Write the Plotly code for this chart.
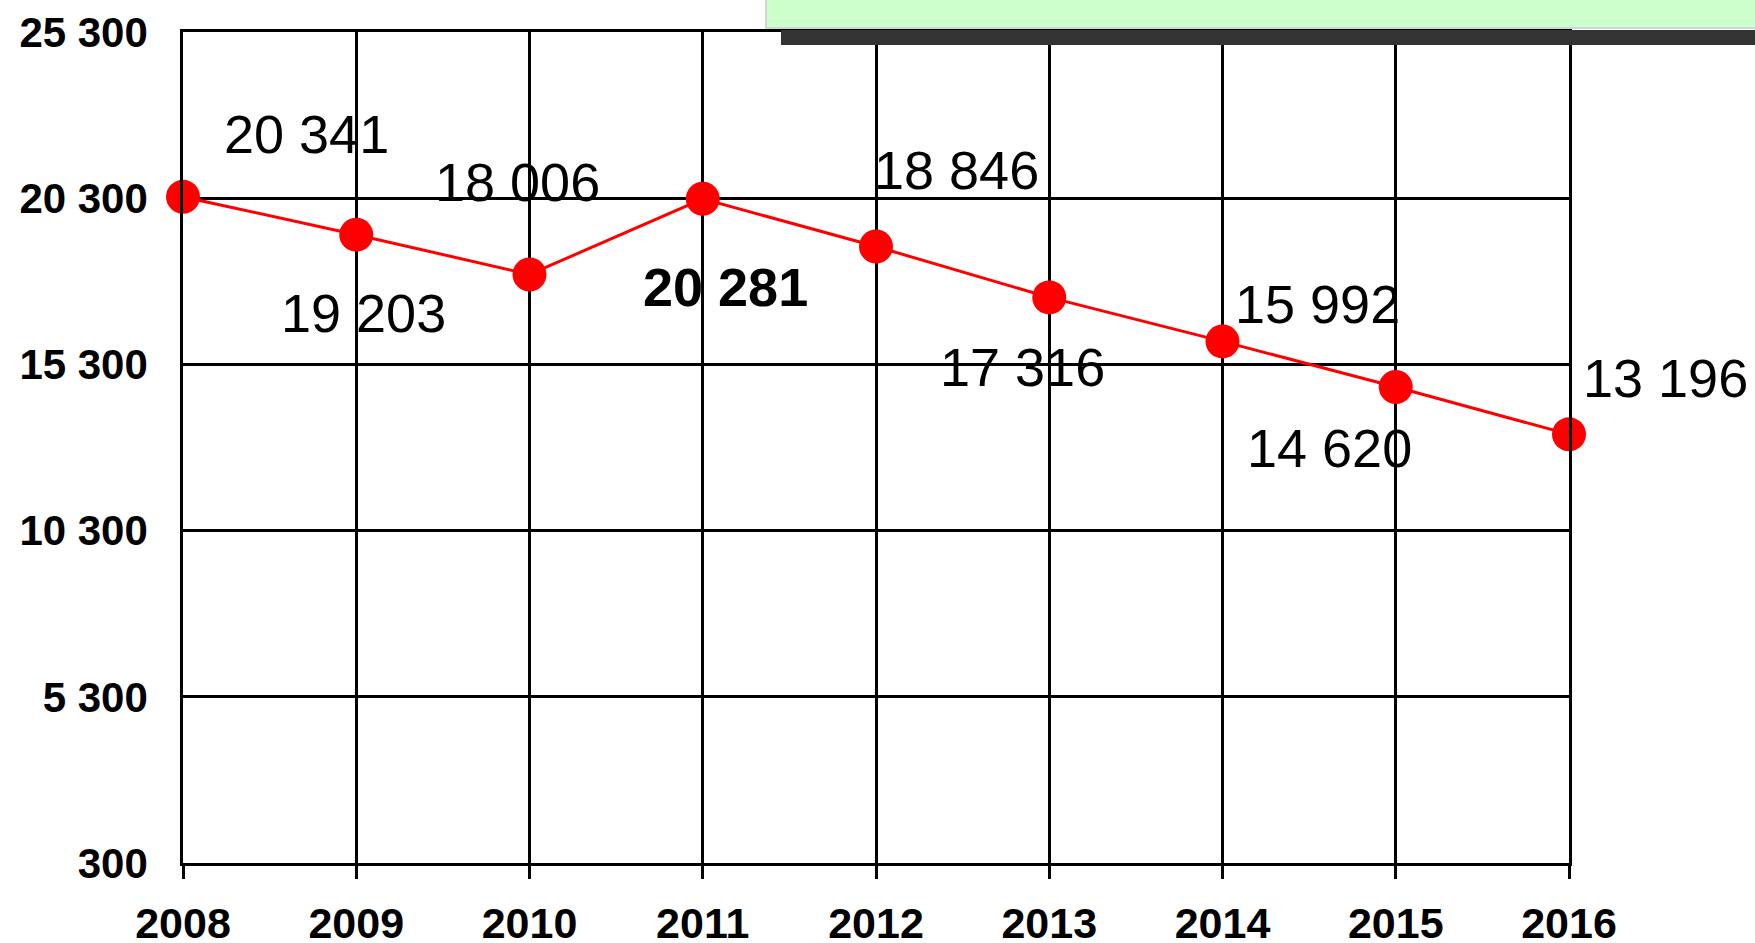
import plotly.graph_objects as go

# ---- data ----
years = [2008, 2009, 2010, 2011, 2012, 2013, 2014, 2015, 2016]
debt = [20341, 19203, 18006, 20281, 18846, 17316, 15992, 14620, 13196]
value_labels = ["20 341", "19 203", "18 006", "20 281", "18 846",
                "17 316", "15 992", "14 620", "13 196"]
bold_label = [False, False, False, True, False, False, False, False, False]
x_tick_labels = ["2008", "2009", "2010", "2011", "2012", "2013", "2014", "2015", "2016"]
y_tick_vals = [300, 5300, 10300, 15300, 20300, 25300]
y_tick_labels = ["300", "5 300", "10 300", "15 300", "20 300", "25 300"]
title_text = "Encours de la dette de 2008 à 2016"

# label offsets (pixels) relative to each point
label_dx = [123, 7, -12, 23, 80, -27, 95, -66, 96]
label_dy = [63, -78, 92, -88, 77, -70, 37, -61, 56]

FONT = "Liberation Sans, Arial, sans-serif"
W, H = 1755, 943
L, R, T, B = 183, 186, 32, 80
PW, PH = W - L - R, H - T - B
X0, X1 = years[0], years[-1]
Y0, Y1 = y_tick_vals[0], y_tick_vals[-1]

def px_x(p):
    return (p - L) / PW

def px_y(p):
    return (H - B - p) / PH

fig = go.Figure()
fig.add_trace(go.Scatter(
    x=years, y=debt, mode="lines+markers",
    line=dict(color="#FF0000", width=3),
    marker=dict(color="#FF0000", size=34),
    cliponaxis=False, showlegend=False, hoverinfo="x+y",
))

# title text: placed mostly above the page (only its lower edge shows)
fig.add_trace(go.Scatter(
    x=[X0 + px_x(782) * (X1 - X0)], y=[Y0 + px_y(-12) * (Y1 - Y0)],
    mode="text", text=[f"<b>{title_text}</b>"], textposition="middle right",
    textfont=dict(family=FONT, size=62, color="black"),
    cliponaxis=False, showlegend=False, hoverinfo="skip",
))

annotations = []
for yr, v, txt, b, dx, dy in zip(years, debt, value_labels, bold_label, label_dx, label_dy):
    annotations.append(dict(
        x=yr, y=v, xref="x", yref="y", text=f"<b>{txt}</b>" if b else txt,
        showarrow=False, xanchor="center", yanchor="middle",
        xshift=dx, yshift=dy,
        font=dict(family=FONT, size=54, color="black"),
    ))

shapes = [
    # shadow of the title box
    dict(type="rect", xref="paper", yref="paper",
         x0=px_x(781), x1=px_x(1800), y0=px_y(45), y1=px_y(30),
         fillcolor="#333333", line=dict(width=0), layer="above"),
    # title box (below the traces so the title text shows on top)
    dict(type="rect", xref="paper", yref="paper",
         x0=px_x(766), x1=px_x(1800), y0=px_y(28), y1=px_y(-60),
         fillcolor="#CCFFCC", line=dict(color="#D4D4D4", width=2), layer="below"),
]

fig.update_layout(
    width=W, height=H,
    margin=dict(l=L, r=R, t=T, b=B, pad=0, autoexpand=False),
    paper_bgcolor="white", plot_bgcolor="rgba(0,0,0,0)",
    annotations=annotations, shapes=shapes,
    showlegend=False,
    xaxis=dict(
        range=[X0, X1], tickvals=years, ticktext=x_tick_labels,
        showgrid=True, gridcolor="black", gridwidth=2.5,
        showline=True, linecolor="black", linewidth=2.5, mirror=True,
        ticks="outside", ticklen=13, tickwidth=2.5, tickcolor="black",
        ticklabelstandoff=8, automargin=False,
        tickfont=dict(family=FONT, size=43, color="black", weight="bold"),
        zeroline=False,
    ),
    yaxis=dict(
        range=[Y0, Y1], tickvals=y_tick_vals, ticktext=y_tick_labels,
        showgrid=True, gridcolor="black", gridwidth=2.5,
        showline=True, linecolor="black", linewidth=2.5, mirror=True,
        ticks="", ticklabelstandoff=24, automargin=False,
        tickfont=dict(family=FONT, size=42, color="black", weight="bold"),
        zeroline=False,
    ),
)

fig.write_html(
    "out.html",
    config={"displayModeBar": False},
    post_script="document.body.style.margin='0';document.body.style.overflow='hidden';",
)
